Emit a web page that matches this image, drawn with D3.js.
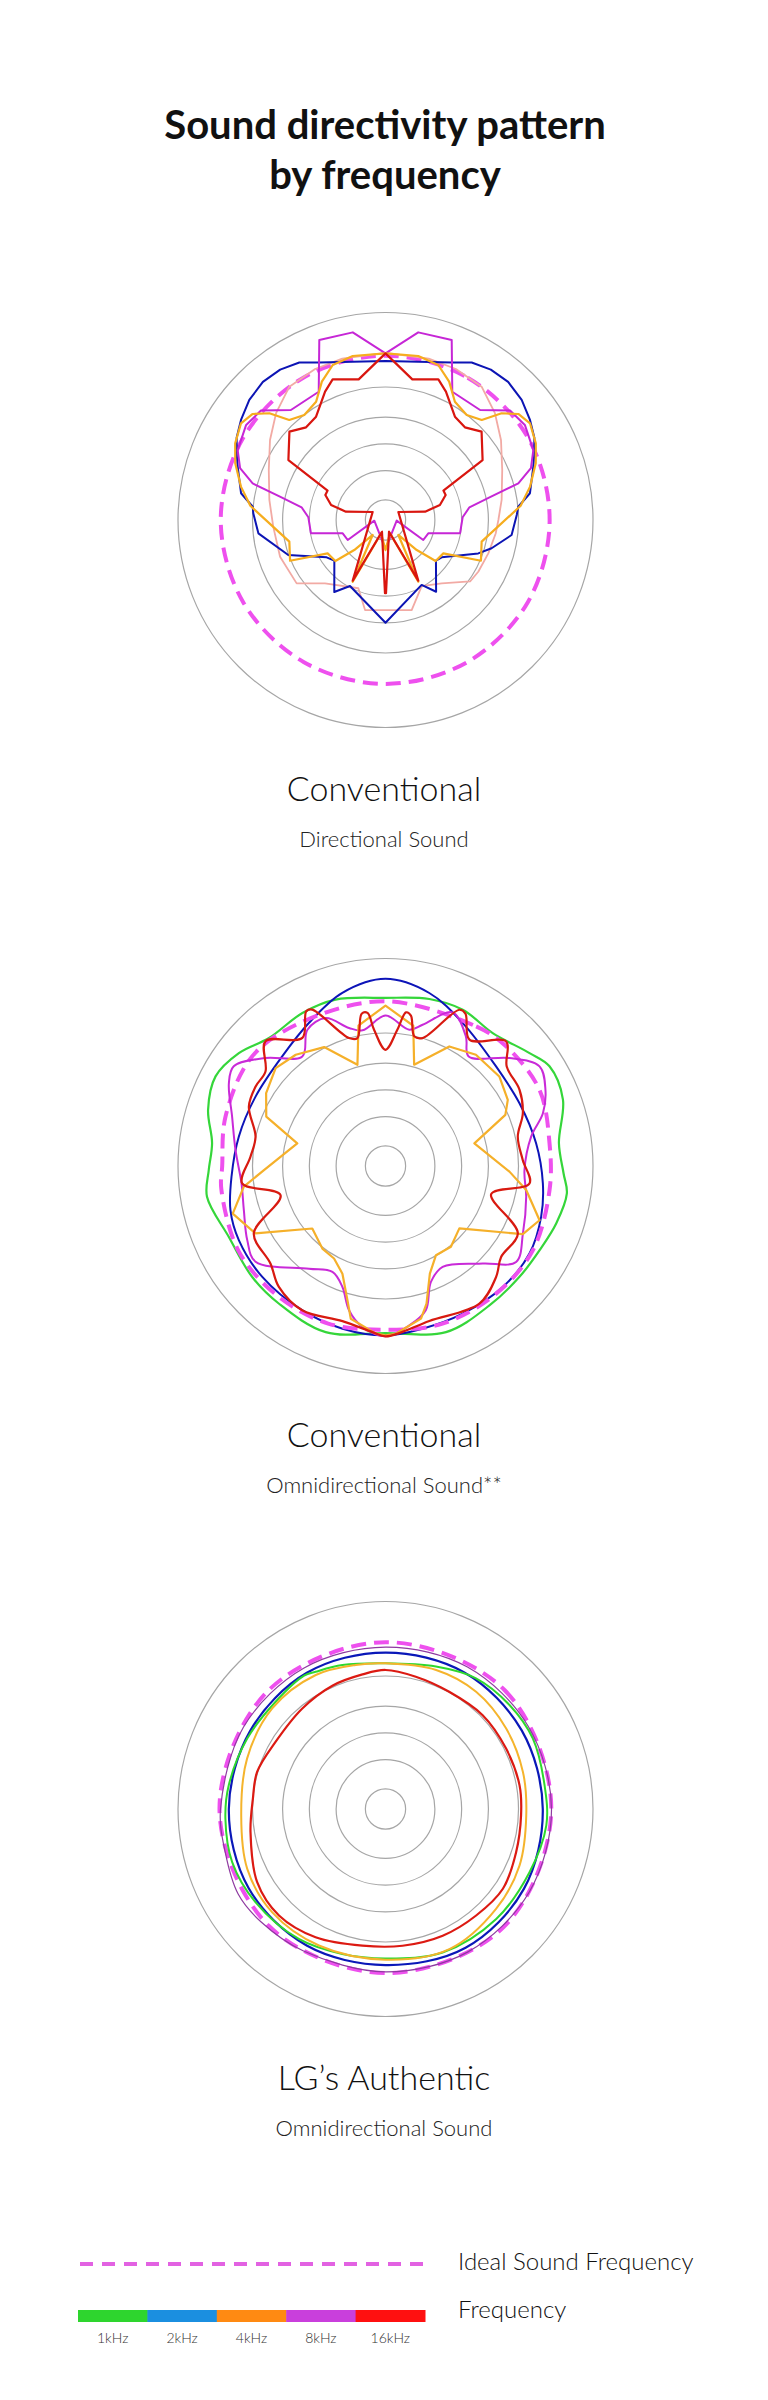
<!DOCTYPE html>
<html>
<head>
<meta charset="utf-8">
<script src="https://cdn.jsdelivr.net/npm/d3@7"></script>
<style>
  body { margin: 0; background: #fff; }
  text { font-family: Lato, "Noto Sans", sans-serif; }
</style>
</head>
<body>
<div id="chart-area"></div>
<script>
// level of the grey rings, in % of the outer ring
var ringLevels = [9.7, 23.8, 36.7, 49.6, 64.1, 100];

// [angle in degrees clockwise from top, level in %]
// --- Conventional / Directional Sound
var dirIdeal = [[0,79.2],[30,79.2],[60,79.3],[90,79.1],[120,79.2],[150,79.0],[180,79.0],[210,79.0],[240,79.2],[270,79.4],[300,79.2],[330,79.2]];
var dirPink = [[0,80.5],[15,80.5],[25,80.3],[35.8,79.2],[45.7,73.7],[55.3,67.7],[66.8,61.2],[80.2,56.8],[90,54.4],[97,53.5],[108,52.1],[119,51.2],[126,50.4],[138.4,40.8],[151.3,36.3],[163.8,45.2],[192.8,44.5],[201.7,35.4],[223.7,42.2],[234.5,52.6],[250.8,53.8],[266.6,54.2],[279.8,56.8],[293.2,61.2],[304.7,67.7],[314.3,73.7],[324.2,79.2],[335,80.3],[345,80.5]];
var dirBlue = [[0,76.6],[11.7,77.9],[22.8,82.4],[28.7,86.5],[35,88.5],[41.6,89],[48.6,87.5],[55.3,84.7],[61,82],[66,78.5],[70.2,75.7],[79.5,70.8],[84.3,64.3],[87.8,63.3],[96.8,61.2],[104.9,52.9],[109.8,47.5],[123.6,32.5],[128.8,31.2],[144.8,42.3],[150.9,35.8],[180,49.5],[208.3,36.1],[215.4,42.6],[231.5,31.5],[237.6,33.6],[250.2,49.8],[264,61.6],[272.9,63.8],[275.7,64.3],[280.5,70.8],[289.8,75.7],[294,78.5],[299,82],[304.7,84.7],[311.4,87.5],[318.4,89],[325,88.5],[331.3,86.5],[337.2,82.4],[348.3,77.9]];
var dirMagenta = [[0,80.3],[9.9,91.8],[20.2,92.4],[27.5,69.7],[40.7,69.9],[48.7,79.9],[55.7,81.3],[64.7,78.8],[70.4,74.4],[74.6,66.4],[77.7,51.3],[81.4,40.9],[88,37.2],[100,36.5],[107.3,21.6],[117.9,20.6],[93.4,5.4],[155.2,7.1],[180,14.1],[204.8,7.1],[266.6,5.4],[242.1,20.6],[252.7,21.6],[260,36.5],[272,37.2],[278.6,40.9],[282.3,51.3],[285.4,66.4],[289.6,74.4],[295.3,78.8],[304.3,81.3],[311.3,79.9],[319.3,69.9],[332.5,69.7],[339.8,92.4],[350.1,91.8]];
var dirOrange = [[0,80.3],[11.3,80.6],[18.8,78.9],[24.7,73.4],[30.4,66.1],[37.7,64.0],[43.9,66.9],[47.4,76.0],[51.4,81.9],[56.2,83.8],[63,81.3],[69.3,77.4],[77,71.5],[84,65.5],[102.7,47.5],[113.1,50],[120,32.2],[129.3,31.2],[133.9,20.9],[139.4,9.5],[152,33.7],[161.4,6.8],[180,14.5],[198.6,6.8],[208,33.7],[220.6,9.5],[226.1,20.9],[230.7,31.2],[240,32.2],[246.9,50],[257.3,47.5],[276,65.5],[283,71.5],[290.7,77.4],[297,81.3],[303.8,83.8],[308.6,81.9],[312.6,76.0],[316.1,66.9],[322.3,64.0],[329.6,66.1],[335.3,73.4],[341.2,78.9],[348.7,80.6]];
var dirRed = [[0,80.3],[10.8,69.0],[20.6,72.4],[25.2,68.4],[33.9,60.0],[40.6,58.8],[47.4,62.9],[58.3,55.0],[63.1,31.3],[67.4,31.4],[74.6,27.2],[78.1,19.5],[58.1,7.3],[151.6,33.2],[163.3,5.9],[179.6,35.3],[180.4,35.3],[196.7,5.9],[208.4,33.2],[301.9,7.3],[281.9,19.5],[285.4,27.2],[292.6,31.4],[296.9,31.3],[301.7,55.0],[312.6,62.9],[319.4,58.8],[326.1,60.0],[334.8,68.4],[339.4,72.4],[349.2,69.0]];

// --- Conventional / Omnidirectional Sound**
var omniIdeal = [[0,79.4],[33,80.2],[45.2,81.9],[63.7,82.8],[82.1,79.8],[98.3,79.9],[119.7,81.8],[139.1,81.4],[160.1,80.8],[180,78.9],[200,80.8],[220,81.4],[240,81.8],[262,79.9],[270,78.7],[287.2,80.7],[309.4,83.2],[330,80.2]];
var omniGreen = [[0,81.0],[14.7,83.2],[26.3,84.0],[38.9,82.3],[51.9,88.2],[58.7,92.5],[69.5,91.3],[82.5,84.3],[92.4,85.9],[98.6,88.4],[108.6,86.8],[118.7,84.6],[129.6,83.8],[143.3,83.8],[160,85.2],[180,80.5],[199.8,85.1],[217.7,83.9],[230.2,83.6],[245.7,82.9],[260.2,87.3],[268.7,85.2],[277.5,84.3],[287.6,89.7],[297.8,92.6],[307.6,89.2],[317.7,83.4],[331.5,83.9],[343.3,83.7]];
var omniBlue = [[0,90.2],[14.2,86.0],[28.4,78.3],[48.0,71.7],[64.9,71.3],[81.4,73.4],[96.3,76.3],[108.1,78.9],[121.3,81.2],[135.9,81.2],[152.4,80.3],[167.2,80.4],[180,81.6],[194.8,81.1],[209.9,80.3],[228,79.9],[243.2,79.2],[254.1,77.7],[266,74.4],[281.3,72.1],[298.1,71.0],[316.7,72.6],[331.8,78.2],[346,86.0]];
var omniMagenta = [[0,72.5],[9.9,66.7],[14.7,70.4],[23.6,80.8],[31.8,73.5],[37.2,66.3],[48.9,79.2],[57.1,88.4],[64.5,85.4],[71.5,80.0],[78.6,71.6],[91.7,67.0],[102.3,69.4],[116.2,73.8],[126.3,78.1],[135.1,66.4],[150.5,55.9],[158.6,60.0],[164.4,72.2],[171.5,77.7],[180,82.1],[188.1,78.4],[194.2,71.7],[199.6,61.9],[206.6,57.1],[216.7,61.7],[233.6,77.8],[241.8,75.6],[252.7,71.5],[263.1,69.9],[276.1,72.7],[287.9,77.7],[297.9,85.4],[303.3,87.5],[312,77.8],[322.8,66.3],[330.2,75.7],[338,76.9],[345.2,68.8],[350.4,66.3]];
var omniOrange = [[0,77.3],[11.2,68.9],[15.8,50.7],[28.1,65.3],[39.1,69.1],[51.8,69.8],[61.6,67.0],[66.9,62.8],[75.7,44.2],[92.6,59.8],[99.7,68.8],[109.4,78.7],[116.4,73.9],[130.2,46.6],[141,50.1],[150.5,49.4],[157.6,56.1],[163.4,69.2],[166.9,75.5],[176.5,81.0],[180,81.6],[183.3,80.9],[192.8,75.5],[195.8,67.3],[201.8,55.9],[209.1,51.0],[217.4,50.1],[229.5,46.4],[242.6,70.6],[252.7,77.1],[261.7,69.0],[268.1,58.6],[284.4,43.9],[292.5,62.2],[301.4,67.4],[311.7,70.9],[321.1,68.9],[332.7,64.5],[344.5,50.6],[349.1,68.9]];
var omniRed = [[0,56.0],[5,66.0],[7.6,74.7],[9.6,73.5],[12.5,64.0],[16.2,64.2],[25.3,83.3],[27.7,82.9],[33.6,73.1],[44.1,83.6],[50.6,75.6],[60.4,74.3],[69,70.9],[77.5,65.3],[87.5,66.2],[96.9,69.9],[104.9,52.7],[117,71.6],[128.2,70.9],[135.1,75.5],[145.7,80.3],[164.2,77.6],[175.3,80.8],[180,82.1],[184.5,80.3],[195.5,77.6],[210,80.3],[221.4,77.7],[229.7,72.7],[242.9,71.3],[254.5,52.5],[263.1,69.6],[274,65.2],[282.7,64.2],[293.5,71.8],[301.5,73.4],[308.2,73.6],[316.1,83.4],[327,73.6],[332.9,83.8],[334.9,83.2],[344.1,64.1],[347.6,63.1],[351.1,74.3],[353.3,74.3],[355.2,65.9]];

// --- LG's Authentic / Omnidirectional Sound
var lgIdeal = [[0,80.4],[45,81.1],[90,79.9],[135,80.5],[180,79.1],[225,79.6],[270,80.0],[315,80.3]];
var lgPurple = [[0,78],[30,79],[60,79.5],[90,80],[120,80],[150,79.5],[180,78.5],[210,79],[228,81],[240,82],[255,80],[270,79.5],[300,79],[330,78.5]];
var lgBlue = [[0,75.4],[30,76],[60,75.8],[90,75.8],[120,77],[150,77.2],[180,75.2],[210,76],[240,76.2],[270,75.5],[300,75.3],[330,75.8]];
var lgGreen = [[0,70.2],[19.5,72.8],[34.7,76.6],[50,78.0],[64.4,78.7],[81.5,77.5],[95.8,77.9],[113.7,75.8],[134.8,75.2],[158.3,74.4],[180,72.0],[196.6,72.9],[213.7,75.3],[234.4,77.1],[250.9,78.2],[266.5,77.3],[278.6,76.4],[297,74.8],[314.3,74.0],[328.6,75.3],[333,74.2],[343.3,72.4]];
var lgOrange = [[0,70.2],[20,71.3],[37.7,71.4],[56.3,69.9],[74.9,68.6],[92.6,67.9],[112.9,70.1],[132.1,71.8],[155.5,74.2],[180,72.6],[206,73.2],[227.6,73.9],[246.6,72.6],[267.5,69.6],[290,71.0],[311.6,73.0],[332.5,72.8],[348.3,70.9]];
var lgRed = [[0,67.0],[12.9,65.4],[28.5,64.3],[46,65.1],[63.4,65.0],[80,65.6],[92.7,65.4],[108.3,66.3],[124.2,68.4],[139.6,67.4],[155.7,67.0],[172.9,66.4],[189.6,66.8],[208.6,70.4],[225,72.6],[240.3,71.2],[260.3,66.0],[274.5,64.1],[286.1,64.4],[301.4,62.1],[320.4,62.9],[336.7,64.7],[350.3,65.8]];

// legend
var freqLabels = ["1kHz", "2kHz", "4kHz", "8kHz", "16kHz"];
var freqColors = ["#2ed52e", "#1b8fe0", "#ff8a12", "#c93fdc", "#ff1010"];

var width = 768, height = 2400;
var svg = d3.select("#chart-area").append("svg")
    .attr("width", width)
    .attr("height", height);

svg.append("rect").attr("width", width).attr("height", height).attr("fill", "#fff");

var r = d3.scaleLinear().domain([0, 100]).range([0, 207.5]);
var ang = d3.scaleLinear().domain([0, 360]).range([0, 2 * Math.PI]);
var cx = 385.5;

// title
svg.append("text")
    .attr("x", 385).attr("y", 139)
    .attr("text-anchor", "middle")
    .attr("font-size", "40px").attr("font-weight", 700).attr("fill", "#111")
    .text("Sound directivity pattern");
svg.append("text")
    .attr("x", 385).attr("y", 189)
    .attr("text-anchor", "middle")
    .attr("font-size", "40px").attr("font-weight", 700).attr("fill", "#111")
    .text("by frequency");

function drawPolar(cy, series, title, sub) {
    var g = svg.append("g")
        .attr("transform", "translate(" + cx + ", " + cy + ")");

    g.selectAll("circle")
        .data(ringLevels)
        .enter().append("circle")
            .attr("r", (d) => { return r(d); })
            .attr("fill", "none")
            .attr("stroke", "#a6a6a6")
            .attr("stroke-width", 1.2);

    series.forEach((s) => {
        var line = d3.lineRadial()
            .angle((d) => { return ang(d[0]); })
            .radius((d) => { return r(d[1]); })
            .curve(s.smooth ? d3.curveCatmullRomClosed.alpha(0.5) : d3.curveLinearClosed);
        g.append("path")
            .datum(s.data)
            .attr("d", line)
            .attr("fill", "none")
            .attr("stroke", s.color)
            .attr("stroke-width", s.w)
            .attr("stroke-linejoin", "round")
            .attr("stroke-dasharray", s.dash || null);
    });

    svg.append("text")
        .attr("x", 384).attr("y", cy + 281)
        .attr("text-anchor", "middle")
        .attr("font-size", "34px").attr("font-weight", 300).attr("fill", "#111")
        .text(title);
    svg.append("text")
        .attr("x", 384).attr("y", cy + 327)
        .attr("text-anchor", "middle")
        .attr("font-size", "22px").attr("font-weight", 300).attr("fill", "#222")
        .text(sub);
}

var dash = "15,8";

drawPolar(520, [
    { data: dirIdeal, color: "#ee50ee", w: 4, dash: dash, smooth: true },
    { data: dirPink, color: "#f2aaa4", w: 1.8 },
    { data: dirBlue, color: "#0c14b4", w: 2 },
    { data: dirMagenta, color: "#c626d6", w: 2 },
    { data: dirOrange, color: "#f6ad1e", w: 2.2 },
    { data: dirRed, color: "#d9160f", w: 2.2 }
], "Conventional", "Directional Sound");

drawPolar(1166, [
    { data: omniGreen, color: "#35d63a", w: 2.2, smooth: true },
    { data: omniBlue, color: "#0d14b8", w: 2, smooth: true },
    { data: omniIdeal, color: "#ee50ee", w: 4, dash: dash, smooth: true },
    { data: omniMagenta, color: "#c92ad8", w: 2, smooth: true },
    { data: omniOrange, color: "#f5b02a", w: 2.2 },
    { data: omniRed, color: "#d81a10", w: 2.2, smooth: true }
], "Conventional", "Omnidirectional Sound**");

drawPolar(1809, [
    { data: lgIdeal, color: "#ee50ee", w: 4, dash: dash, smooth: true },
    { data: lgPurple, color: "#8e3aa0", w: 1.2, smooth: true },
    { data: lgBlue, color: "#0a18b8", w: 2.2, smooth: true },
    { data: lgGreen, color: "#2ed82e", w: 2, smooth: true },
    { data: lgOrange, color: "#f5b42c", w: 2, smooth: true },
    { data: lgRed, color: "#dc1a12", w: 2.2, smooth: true }
], "LG\u2019s Authentic", "Omnidirectional Sound");

// legend
var lg = svg.append("g").attr("class", "legend");

lg.append("line")
    .attr("x1", 80).attr("x2", 423)
    .attr("y1", 2264).attr("y2", 2264)
    .attr("stroke", "#e262e2")
    .attr("stroke-width", 4)
    .attr("stroke-dasharray", "13,9");

var band = d3.scaleBand()
    .domain(freqLabels)
    .range([78, 425]);

var colorOf = d3.scaleOrdinal()
    .domain(freqLabels)
    .range(freqColors);

lg.selectAll("rect")
    .data(freqLabels)
    .enter().append("rect")
        .attr("x", (d) => { return band(d); })
        .attr("y", 2310)
        .attr("width", band.bandwidth() + 0.5)
        .attr("height", 12)
        .attr("fill", (d) => { return colorOf(d); });

lg.selectAll("text.tick")
    .data(freqLabels)
    .enter().append("text")
        .attr("class", "tick")
        .attr("x", (d) => { return band(d) + band.bandwidth() / 2; })
        .attr("y", 2343)
        .attr("text-anchor", "middle")
        .attr("font-size", "14px")
        .attr("font-weight", 300)
        .attr("fill", "#333")
        .text((d) => { return d; });

lg.append("text")
    .attr("x", 458).attr("y", 2270)
    .attr("font-size", "24px").attr("font-weight", 300).attr("fill", "#111")
    .text("Ideal Sound Frequency");

lg.append("text")
    .attr("x", 458).attr("y", 2318)
    .attr("font-size", "24px").attr("font-weight", 300).attr("fill", "#111")
    .text("Frequency");
</script>
</body>
</html>
